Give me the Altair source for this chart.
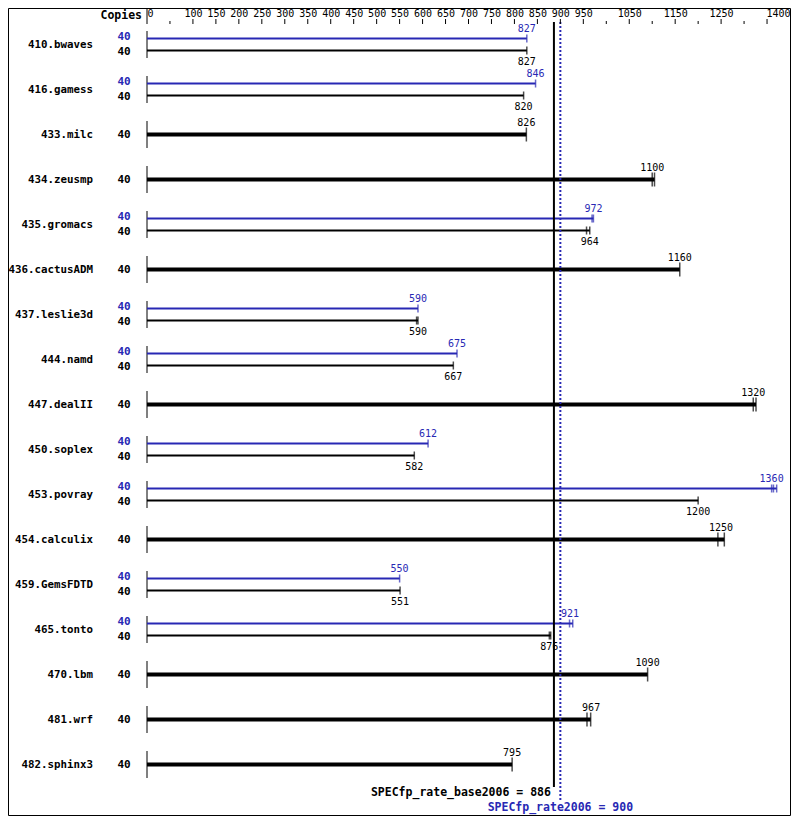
import altair as alt
import pandas as pd

benchmarks = ["410.bwaves", "416.gamess", "433.milc", "434.zeusmp", "435.gromacs",
              "436.cactusADM", "437.leslie3d", "444.namd", "447.dealII", "450.soplex",
              "453.povray", "454.calculix", "459.GemsFDTD", "465.tonto", "470.lbm",
              "481.wrf", "482.sphinx3"]
copies_base = [40, 40, 40, 40, 40, 40, 40, 40, 40, 40, 40, 40, 40, 40, 40, 40, 40]
copies_peak = [40, 40, None, None, 40, None, 40, 40, None, 40, 40, None, 40, 40, None, None, None]
base_ratio = [827, 820, 826, 1100, 964, 1160, 590, 667, 1320, 582, 1200, 1250, 551, 876, 1090, 967, 795]
peak_ratio = [827, 846, None, None, 972, None, 590, 675, None, 612, 1360, None, 550, 921, None, None, None]
base_runs = [[827], [820], [826], [1100, 1105], [957, 964], [1160], [587, 590], [667],
             [1320, 1326], [582], [1200], [1243, 1257], [551], [876, 879], [1090],
             [958, 966], [795]]
peak_runs = [[827], [846], None, None, [969, 972], None, [590], [675], None, [612],
             [1360, 1364, 1371], None, [550], [920, 927], None, None, None]
axis_labels = [0, 100, 150, 200, 250, 300, 350, 400, 450, 500, 550, 600, 650, 700, 750,
               800, 850, 900, 950, 1050, 1150, 1250, 1400]
major_ticks = [100, 150, 200, 250, 300, 350, 400, 450, 500, 550, 600, 650, 700, 750,
               800, 850, 900, 950, 1050, 1150, 1250, 1350]
minor_ticks = [50, 1000, 1100, 1200, 1300]
base_score = 886
peak_score = 900

BLUE = "#2828b4"
MONO = "DejaVu Sans Mono"
OFF = 6 / 45.0

bars, runs, names = [], [], []
for i, name in enumerate(benchmarks):
    names.append(dict(name=name, pos=i, lo=i - 0.3, hi=i + 0.3, zero=0))
    if peak_ratio[i] is None:
        bars.append(dict(kind="both", pos=i, value=base_ratio[i], end=max(base_runs[i]),
                         copies=copies_base[i], zero=0))
        runs += [dict(kind="both", pos=i, run=r) for r in base_runs[i]]
    else:
        bars.append(dict(kind="peak", pos=i - OFF, value=peak_ratio[i], end=max(peak_runs[i]),
                         copies=copies_peak[i], zero=0))
        bars.append(dict(kind="base", pos=i + OFF, value=base_ratio[i], end=max(base_runs[i]),
                         copies=copies_base[i], zero=0))
        runs += [dict(kind="peak", pos=i - OFF, run=r) for r in peak_runs[i]]
        runs += [dict(kind="base", pos=i + OFF, run=r) for r in base_runs[i]]

bars = pd.DataFrame(bars)
runs = pd.DataFrame(runs)
names = pd.DataFrame(names)
ticks_major = pd.DataFrame(dict(v=major_ticks))
ticks_minor = pd.DataFrame(dict(v=minor_ticks))

xscale = alt.Scale(domain=[0, 1400], nice=False, zero=False)
yscale = alt.Scale(domain=[-0.5, 16.5], reverse=True, nice=False, zero=False)
X = lambda f: alt.X(f, type="quantitative", scale=xscale,
                    axis=alt.Axis(orient="top", values=axis_labels, labelFlush=True,
                                  format="d", ticks=False, tickSize=0, domain=False,
                                  grid=False, labelPadding=4, title=None, labelFont=MONO,
                                  labelFontSize=10, labelColor="black",
                                  labelBaseline="bottom"))
Y = lambda f: alt.Y(f, type="quantitative", scale=yscale, axis=None)
kcolor = alt.Color("kind:N", scale=alt.Scale(domain=["peak", "base", "both"],
                                             range=[BLUE, "black", "black"]), legend=None)

thin = bars[bars.kind != "both"]
thick = bars[bars.kind == "both"]

layers = []
# benchmark base segments
layers.append(alt.Chart(names).mark_rule(color="black", strokeWidth=1).encode(
    x=X("zero:Q"), y=Y("lo:Q"), y2="hi:Q"))
# bars
layers.append(alt.Chart(thin).mark_rule(strokeWidth=2).encode(
    x=X("zero:Q"), x2="end:Q", y=Y("pos:Q"), color=kcolor))
layers.append(alt.Chart(thick).mark_rule(strokeWidth=4).encode(
    x=X("zero:Q"), x2="end:Q", y=Y("pos:Q"), color=kcolor))
# run ticks
layers.append(alt.Chart(runs[runs.kind != "both"]).mark_tick(
    orient="vertical", size=8, thickness=1.5).encode(
    x=X("run:Q"), y=Y("pos:Q"), color=kcolor))
layers.append(alt.Chart(runs[runs.kind == "both"]).mark_tick(
    orient="vertical", size=14, thickness=1.5).encode(
    x=X("run:Q"), y=Y("pos:Q"), color=kcolor))
# value labels
for kind, dy in [("peak", -10), ("base", 11), ("both", -12)]:
    layers.append(alt.Chart(bars[bars.kind == kind]).mark_text(
        font=MONO, fontSize=10, dy=dy, align="center", baseline="middle").encode(
        x=X("value:Q"), y=Y("pos:Q"), text="value:Q", color=kcolor))
# copies labels
for kind, dy in [("peak", -2), ("base", 1), ("both", 0)]:
    layers.append(alt.Chart(bars[bars.kind == kind]).mark_text(
        font=MONO, fontSize=11, fontWeight="bold", align="center", baseline="middle",
        dy=dy).encode(
        x=alt.value(-23), y=Y("pos:Q"), text="copies:Q", color=kcolor))
# benchmark names
layers.append(alt.Chart(names).mark_text(
    font=MONO, fontSize=10.8, fontWeight="bold", align="right", baseline="middle").encode(
    x=alt.value(-54), y=Y("pos:Q"), text="name:N"))
# summary lines
layers.append(alt.Chart(pd.DataFrame(dict(v=[base_score], a=[-0.5], b=[16.5]))).mark_rule(
    color="black", strokeWidth=2).encode(x=X("v:Q"), y=Y("a:Q"), y2="b:Q"))
layers.append(alt.Chart(pd.DataFrame(dict(v=[peak_score], a=[-0.5], b=[16.79]))).mark_rule(
    color=BLUE, strokeWidth=2, strokeDash=[2, 2]).encode(x=X("v:Q"), y=Y("a:Q"), y2="b:Q"))
layers.append(alt.Chart(pd.DataFrame(dict(v=[base_score], p=[16.63],
                                          t=[f"SPECfp_rate_base2006 = {base_score}"]))).mark_text(
    font=MONO, fontSize=11.5, fontWeight="bold", align="right", baseline="middle", dx=-3,
    color="black").encode(x=X("v:Q"), y=Y("p:Q"), text="t:N"))
layers.append(alt.Chart(pd.DataFrame(dict(v=[peak_score], p=[16.96],
                                          t=[f"SPECfp_rate2006 = {peak_score}"]))).mark_text(
    font=MONO, fontSize=11.5, fontWeight="bold", align="center", baseline="middle",
    color=BLUE).encode(x=X("v:Q"), y=Y("p:Q"), text="t:N"))
# axis ticks
layers.append(alt.Chart(ticks_major).mark_rule(color="black", strokeWidth=1).encode(
    x=X("v:Q"), y=alt.value(-3), y2=alt.value(2)))
layers.append(alt.Chart(ticks_minor).mark_rule(color="black", strokeWidth=1).encode(
    x=X("v:Q"), y=alt.value(-1), y2=alt.value(2)))
layers.append(alt.Chart(pd.DataFrame(dict(v=[0]))).mark_rule(color="black", strokeWidth=1).encode(
    x=X("v:Q"), y=alt.value(-14), y2=alt.value(2)))
# header
layers.append(alt.Chart(pd.DataFrame(dict(t=["Copies"]))).mark_text(
    font=MONO, fontSize=11.5, fontWeight="bold", align="right", baseline="bottom").encode(
    x=alt.value(-5), y=alt.value(-1), text="t:N"))
# frame
layers.append(alt.Chart(pd.DataFrame(dict(t=["frame"]))).mark_rect(
    fill=None, stroke="black", strokeWidth=1).encode(
    x=alt.value(-138.5), x2=alt.value(643.5), y=alt.value(-13.5), y2=alt.value(793.5)))

chart = alt.layer(*layers).properties(
    width=643, height=765,
    autosize=alt.AutoSizeParams(type="none"),
    padding={"left": 139, "top": 14, "right": 1, "bottom": 29},
    background="white",
).configure_view(stroke=None)

chart.save("out.html", embed_options={"renderer": "svg", "actions": False})
